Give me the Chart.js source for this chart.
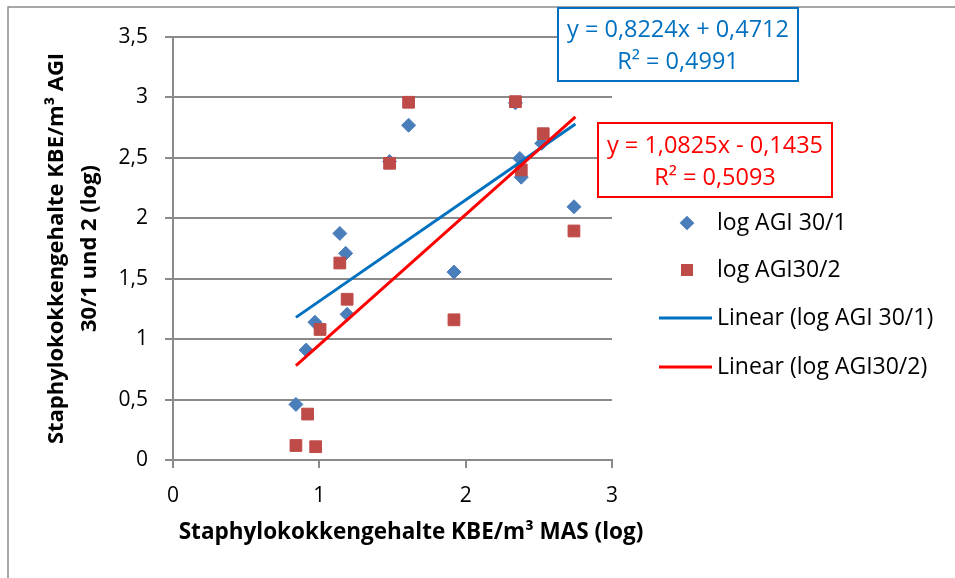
<!DOCTYPE html>
<html>
<head>
<meta charset="utf-8">
<script src="https://cdn.jsdelivr.net/npm/chart.js@4.4.1/dist/chart.umd.min.js"></script>
<style>
  html, body { margin: 0; padding: 0; background: #fff; }
  #wrap { width: 955px; height: 578px; }
</style>
</head>
<body>
<div id="wrap"><canvas id="Staph" width="955" height="578"></canvas></div>
<script>
// values (log KBE/m³)
var agi1X = [0.84, 0.91, 0.97, 1.14, 1.18, 1.19, 1.48, 1.61, 1.92, 2.34, 2.37, 2.38, 2.52, 2.74]
var agi1Y = [0.46, 0.91, 1.14, 1.875, 1.71, 1.205, 2.47, 2.77, 1.555, 2.955, 2.495, 2.34, 2.62, 2.095]
var agi2X = [0.84, 0.92, 0.975, 1.005, 1.14, 1.19, 1.48, 1.61, 1.92, 2.34, 2.38, 2.53, 2.74]
var agi2Y = [0.12, 0.38, 0.11, 1.08, 1.63, 1.33, 2.455, 2.96, 1.16, 2.965, 2.40, 2.70, 1.895]
var trend1X = [0.84, 2.75]
var trend1Y = [1.18, 2.78]
var trend2X = [0.84, 2.75]
var trend2Y = [0.78, 2.84]
var seriesNames = ["log AGI 30/1", "log AGI30/2", "Linear (log AGI 30/1)", "Linear (log AGI30/2)"]
var eq1Lines = ["y = 0,8224x + 0,4712", "R² = 0,4991"]
var eq2Lines = ["y = 1,0825x - 0,1435", "R² = 0,5093"]
var xTitle = "Staphylokokkengehalte KBE/m³ MAS (log)"
var yTitle = ["Staphylokokkengehalte KBE/m³ AGI", "30/1 und 2 (log)"]

var FONT = "'Open Sans', 'Noto Sans', sans-serif"
var gridGray = "#8a8a8a"

function pts(xs, ys) {
  var out = []
  for (var i = 0; i < xs.length; i++) out.push({x: xs[i], y: ys[i]})
  return out
}

// boxes, legend, x title and the frame, drawn on top of the chart
var overlay = {
  id: "overlay",
  afterDraw: function(chart) {
    var ctx = chart.ctx
    ctx.save()
    // outer frame (only top/left show in the reference)
    ctx.strokeStyle = gridGray
    ctx.lineWidth = 1.5
    ctx.strokeRect(8, 7, 1000, 1000)

    function eqBox(x, y, w, h, color, lines, cx, y1, y2) {
      ctx.fillStyle = "#fff"
      ctx.fillRect(x, y, w, h)
      ctx.strokeStyle = color
      ctx.lineWidth = 2
      ctx.strokeRect(x, y, w, h)
      ctx.fillStyle = color
      ctx.font = "23.5px " + FONT
      ctx.textAlign = "center"
      ctx.textBaseline = "middle"
      ctx.fillText(lines[0], cx, y1)
      ctx.fillText(lines[1], cx, y2)
    }
    eqBox(558, 8, 240, 73, "#0070C0", eq1Lines, 678, 30, 62)
    eqBox(598, 123, 234, 74, "#FF0000", eq2Lines, 715, 146, 178)

    // legend
    var rows = [223, 270, 318, 367]
    var ds = chart.data.datasets
    ctx.font = "23px " + FONT
    ctx.textAlign = "left"
    ctx.textBaseline = "middle"
    for (var i = 0; i < ds.length; i++) {
      var y = rows[i]
      if (ds[i].showLine) {
        ctx.strokeStyle = ds[i].borderColor
        ctx.lineWidth = ds[i].borderWidth
        ctx.beginPath()
        ctx.moveTo(659, y)
        ctx.lineTo(712, y)
        ctx.stroke()
      } else {
        ctx.fillStyle = ds[i].backgroundColor
        ctx.strokeStyle = ds[i].borderColor
        Chart.helpers.drawPoint(ctx, {
          pointStyle: ds[i].pointStyle,
          radius: ds[i].pointRadius * 0.85,
          borderWidth: 1,
          rotation: 0
        }, 687, y)
      }
      ctx.fillStyle = "#000"
      ctx.fillText(ds[i].label, 717, y)
    }

    // x axis title
    ctx.font = "bold 22.5px " + FONT
    ctx.textAlign = "center"
    ctx.fillText(xTitle, 411, 533)
    ctx.restore()
  }
}

new Chart("Staph", {
  type: "scatter",
  data: {
    datasets: [
      {
        label: seriesNames[0],
        data: pts(agi1X, agi1Y),
        pointStyle: "rectRot",
        pointRadius: 7,
        backgroundColor: "#4A7EBB",
        borderColor: "#4A7EBB",
        borderWidth: 1,
        order: 3,
      },
      {
        label: seriesNames[1],
        data: pts(agi2X, agi2Y),
        pointStyle: "rect",
        pointRadius: 8.3,
        backgroundColor: "#BE4B48",
        borderColor: "#BE4B48",
        borderWidth: 1,
        order: 2,
      },
      {
        label: seriesNames[2],
        data: pts(trend1X, trend1Y),
        showLine: true,
        borderColor: "#0070C0",
        borderWidth: 3,
        pointRadius: 0,
        order: 1,
      },
      {
        label: seriesNames[3],
        data: pts(trend2X, trend2Y),
        showLine: true,
        borderColor: "#FF0000",
        borderWidth: 3,
        pointRadius: 0,
        order: 0,
      },
    ],
  },
  options: {
    responsive: false,
    animation: false,
    layout: {
      padding: { left: 0, top: 37, right: 343, bottom: 0 },
    },
    plugins: {
      legend: false,
      tooltip: { enabled: false },
    },
    scales: {
      x: {
        type: "linear",
        min: 0,
        max: 3,
        afterFit: function(s) { s.height = 118 },
        ticks: {
          stepSize: 1,
          padding: 15,
          color: "#000",
          font: { family: FONT, size: 21 },
        },
        grid: {
          drawOnChartArea: false,
          drawTicks: true,
          tickLength: 8,
          color: gridGray,
          lineWidth: 2,
        },
        border: { color: gridGray, width: 2 },
      },
      y: {
        min: 0,
        max: 3.5,
        afterFit: function(s) { s.width = 173 },
        ticks: {
          stepSize: 0.5,
          padding: 17,
          color: "#000",
          font: { family: FONT, size: 21 },
          callback: (v) => String(v).replace(".", ","),
        },
        grid: {
          color: gridGray,
          lineWidth: 2,
          tickLength: 8,
        },
        border: { color: gridGray, width: 2 },
        title: {
          display: true,
          text: yTitle,
          color: "#000",
          font: { family: FONT, size: 22, weight: "bold", lineHeight: 1.5 },
          padding: { top: 40, bottom: 0 },
        },
      },
    },
  },
  plugins: [overlay],
});
</script>
</body>
</html>
